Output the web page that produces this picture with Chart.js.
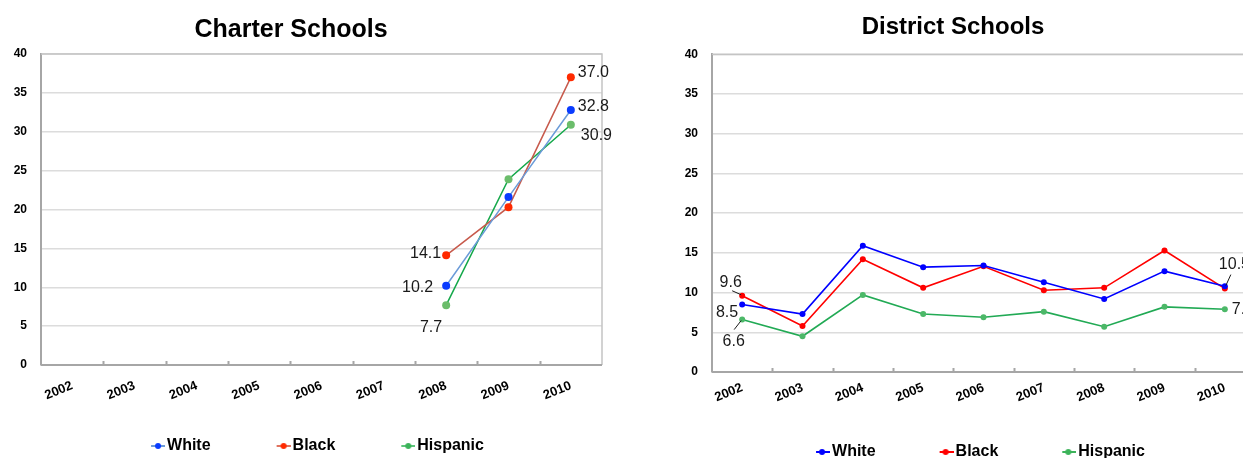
<!DOCTYPE html>
<html>
<head>
<meta charset="utf-8">
<script src="https://cdn.jsdelivr.net/npm/chart.js@4.4.1/dist/chart.umd.min.js"></script>
<style>
  html, body { margin: 0; padding: 0; background: #fff; }
  body { width: 1243px; height: 458px; overflow: hidden; position: relative; }
  canvas { position: absolute; top: 0; }
  #charter { left: 0; }
  #district { left: 670px; }
</style>
</head>
<body>
<canvas id="charter" width="620" height="464"></canvas>
<canvas id="district" width="620" height="470"></canvas>
<script>
const years = ['2002', '2003', '2004', '2005', '2006', '2007', '2008', '2009', '2010'];
const seriesNames = ['White', 'Black', 'Hispanic'];
const yTicks = { min: 0, max: 40, step: 5 };

// charter schools only have data from 2008
const charterWhite = [null, null, null, null, null, null, 10.2, 21.6, 32.8];
const charterBlack = [null, null, null, null, null, null, 14.1, 20.3, 37.0];
const charterHispanic = [null, null, null, null, null, null, 7.7, 23.9, 30.9];

const districtWhite = [8.5, 7.3, 15.9, 13.2, 13.4, 11.3, 9.2, 12.7, 10.8];
const districtBlack = [9.6, 5.8, 14.2, 10.6, 13.3, 10.3, 10.6, 15.3, 10.5];
const districtHispanic = [6.6, 4.5, 9.7, 7.3, 6.9, 7.6, 5.7, 8.2, 7.9];

Chart.defaults.font.family = '"Liberation Sans", Arial, sans-serif';
Chart.defaults.color = '#000';

// legend marker: short line with a dot, drawn at the right end of a wider
// transparent image so the legend items get their wide spacing
function makeMarker(lineColor, dotColor, dotX, width) {
    let c = document.createElement('canvas');
    c.width = width;
    c.height = 8;
    let g = c.getContext('2d');
    let x0 = width - 14;
    g.strokeStyle = lineColor;
    g.lineWidth = 2;
    g.beginPath();
    g.moveTo(x0, 4);
    g.lineTo(width, 4);
    g.stroke();
    g.fillStyle = dotColor;
    g.beginPath();
    g.arc(x0 + dotX, 4, 3, 0, Math.PI * 2);
    g.fill();
    return c;
}

// value labels next to some points
const valueLabels = {
    id: 'valueLabels',
    afterDatasetsDraw(chart, args, o) {
        const ctx = chart.ctx;
        ctx.save();
        ctx.font = '16px "Liberation Sans", Arial, sans-serif';
        ctx.fillStyle = '#1a1a1a';
        ctx.strokeStyle = '#1a1a1a';
        ctx.lineWidth = 1;
        ctx.textBaseline = 'middle';
        o.items.forEach(l => {
            const pt = chart.getDatasetMeta(l.ds).data[l.i];
            const v = chart.data.datasets[l.ds].data[l.i];
            if (l.lead) {
                ctx.beginPath();
                ctx.moveTo(pt.x + l.lead[0], pt.y + l.lead[1]);
                ctx.lineTo(pt.x + l.lead[2], pt.y + l.lead[3]);
                ctx.stroke();
            }
            ctx.textAlign = l.align;
            ctx.fillText(v.toFixed(1), pt.x + l.dx, pt.y + l.dy);
        });
        ctx.restore();
    }
};

// move title / legend sideways, they are not centred on the same spot
const shiftBoxes = {
    id: 'shiftBoxes',
    afterLayout(chart, args, o) {
        if (chart.titleBlock) {
            chart.titleBlock.left += o.title;
            chart.titleBlock.right += o.title;
        }
        if (chart.legend) {
            chart.legend.left += o.legend;
            chart.legend.right += o.legend;
        }
    }
};

// grey frame round the plot and small ticks between the years
const frameAndTicks = {
    id: 'frameAndTicks',
    beforeDatasetsDraw(chart, args, o) {
        const a = chart.chartArea;
        const ctx = chart.ctx;
        const x = chart.scales.x;
        ctx.save();
        ctx.strokeStyle = o.frameColor;
        ctx.lineWidth = 1.5;
        ctx.beginPath();
        ctx.moveTo(a.left, a.top);
        ctx.lineTo(a.right, a.top);
        ctx.lineTo(a.right, a.bottom);
        ctx.stroke();
        ctx.strokeStyle = o.axisColor;
        ctx.lineWidth = 2;
        ctx.beginPath();
        ctx.moveTo(a.left, a.bottom);
        ctx.lineTo(a.right, a.bottom);
        for (let i = 1; i < years.length; i++) {
            const px = Math.round(x.getPixelForValue(i - 0.5)) + 0.5;
            ctx.moveTo(px, a.bottom);
            ctx.lineTo(px, a.bottom - 4);
        }
        ctx.stroke();
        ctx.restore();
    }
};

function makeChart(id, o) {
    return new Chart(document.getElementById(id), {
        type: 'line',
        data: {
            labels: years,
            datasets: o.datasets
        },
        options: {
            responsive: false,
            animation: false,
            layout: { padding: { left: 0, right: o.padRight, top: 0, bottom: 0 } },
            plugins: {
                title: {
                    display: true,
                    text: o.title,
                    color: '#000',
                    font: { size: o.titleSize, weight: 'bold' },
                    padding: o.titlePad
                },
                legend: {
                    position: 'bottom',
                    labels: {
                        usePointStyle: true,
                        pointStyleWidth: o.markerSpace,
                        padding: 10,
                        color: '#000',
                        font: { size: 16, weight: 'bold' },
                        generateLabels(chart) {
                            return Chart.defaults.plugins.legend.labels.generateLabels(chart).map((it, i) => {
                                it.pointStyle = o.markers[i];
                                return it;
                            });
                        }
                    }
                },
                tooltip: { enabled: false },
                valueLabels: { items: o.labels },
                shiftBoxes: o.shift,
                frameAndTicks: { frameColor: '#c4c4c4', axisColor: '#a6a6a6' }
            },
            scales: {
                x: {
                    offset: true,
                    grid: { display: false, drawTicks: false },
                    border: { display: false },
                    ticks: {
                        autoSkip: false,
                        minRotation: 22,
                        maxRotation: 22,
                        padding: o.xPad,
                        color: '#000',
                        font: { size: 13, weight: 'bold' }
                    },
                    afterFit(s) { s.height = o.xHeight; }
                },
                y: {
                    min: yTicks.min,
                    max: yTicks.max,
                    ticks: {
                        stepSize: yTicks.step,
                        padding: 14,
                        color: '#000',
                        font: { size: 12, weight: 'bold' }
                    },
                    grid: { color: '#dcdcdc', lineWidth: 1.5, drawTicks: false },
                    border: { color: '#a6a6a6', width: 2 },
                    afterFit(s) { s.width = o.yWidth; }
                }
            }
        },
        plugins: [valueLabels, shiftBoxes, frameAndTicks]
    });
}

function lineSet(label, data, line, dot, radius, width) {
    return {
        label: label,
        data: data,
        borderColor: line,
        backgroundColor: dot,
        pointBackgroundColor: dot,
        pointBorderColor: dot,
        pointRadius: radius,
        pointBorderWidth: 0,
        borderWidth: width,
        spanGaps: false
    };
}

let charterChart = makeChart('charter', {
    title: 'Charter Schools',
    titleSize: 25,
    titlePad: { top: 15, bottom: 9 },
    padRight: 18,
    yWidth: 41,
    xHeight: 63,
    xPad: 13,
    markerSpace: 64,
    shift: { title: -10, legend: -11.5 },
    datasets: [
        lineSet(seriesNames[0], charterWhite, '#6b9bd8', '#0a3cff', 4, 1.5),
        lineSet(seriesNames[1], charterBlack, '#c75a4c', '#ff2a00', 4, 1.5),
        lineSet(seriesNames[2], charterHispanic, '#14a84a', '#6bbd6b', 4, 1.5)
    ],
    markers: [
        makeMarker('#6b9bd8', '#0a3cff', 7, 76),
        makeMarker('#e0735f', '#ff2a00', 7, 76),
        makeMarker('#5cc47a', '#3cb35a', 7, 76)
    ],
    labels: [
        { ds: 1, i: 6, dx: -5, dy: -2, align: 'right' },
        { ds: 0, i: 6, dx: -13, dy: 2, align: 'right' },
        { ds: 2, i: 6, dx: -4, dy: 22, align: 'right' },
        { ds: 1, i: 8, dx: 7, dy: -5, align: 'left' },
        { ds: 0, i: 8, dx: 7, dy: -3, align: 'left' },
        { ds: 2, i: 8, dx: 10, dy: 11, align: 'left' }
    ]
});

let districtChart = makeChart('district', {
    title: 'District Schools',
    titleSize: 24,
    titlePad: { top: 12.6, bottom: 12.9 },
    padRight: 35,
    yWidth: 42,
    xHeight: 62,
    xPad: 8,
    markerSpace: 62,
    shift: { title: -9.5, legend: -9 },
    datasets: [
        lineSet(seriesNames[0], districtWhite, '#0000ff', '#0000ff', 3, 1.6),
        lineSet(seriesNames[1], districtBlack, '#ff0000', '#ff0000', 3, 1.6),
        lineSet(seriesNames[2], districtHispanic, '#22aa55', '#4cb868', 3, 1.6)
    ],
    markers: [
        makeMarker('#0000ff', '#0000ff', 6, 74),
        makeMarker('#ff0000', '#ff0000', 6, 74),
        makeMarker('#3cb35a', '#3cb35a', 6, 74)
    ],
    labels: [
        { ds: 1, i: 0, dx: -11.5, dy: -13, align: 'center', lead: [-10, -5, -1, -1] },
        { ds: 0, i: 0, dx: -4, dy: 8, align: 'right' },
        { ds: 2, i: 0, dx: -8.5, dy: 22, align: 'center', lead: [-8, 10, -1, 1] },
        { ds: 1, i: 8, dx: -6, dy: -24, align: 'left', lead: [6, -14, 1, -3] },
        { ds: 2, i: 8, dx: 7, dy: 0, align: 'left' }
    ]
});
</script>
</body>
</html>
